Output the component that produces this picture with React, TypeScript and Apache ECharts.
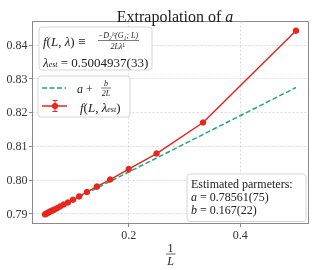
import React, { useEffect, useRef } from "react";
import * as echarts from "echarts";

const sizesL = [2, 3, 4, 5, 6, 7, 8, 9, 10, 11, 12, 13, 14, 15, 16, 17, 18, 19, 20];
const fValues = [0.8442, 0.817, 0.8078, 0.8032, 0.8001, 0.798, 0.7964, 0.7951, 0.7941, 0.7933, 0.7927, 0.7921, 0.7916, 0.7912, 0.7909, 0.7906, 0.7903, 0.79, 0.7898];
const fitA = 0.78561;
const fitB = 0.167;
const yTicks = [0.79, 0.8, 0.81, 0.82, 0.83, 0.84];
const xTicks = [0.2, 0.4];

const RED = "#e8261c";
const GREEN = "#1fa67e";
const SERIF = "'Liberation Serif', 'DejaVu Serif', serif";

export default function App() {
  const ref = useRef<HTMLDivElement>(null);
  useEffect(() => {
    if (!ref.current) return;
    const chart = echarts.init(ref.current, null, { renderer: "svg" });
    const pts = sizesL.map((L, i) => [1 / L, fValues[i]]);
    const xs = sizesL.map((L) => 1 / L);
    const xMinD = Math.min(...xs), xMaxD = Math.max(...xs);
    const yMinD = Math.min(...fValues), yMaxD = Math.max(...fValues);
    const fit = [xMinD, xMaxD].map((x) => [x, fitA + (fitB * x) / 2]);
    const xr = xMaxD - xMinD, yr = yMaxD - yMinD;

    const boxStyle = { fill: "rgba(255,255,255,0.85)", stroke: "#d6d6d6", lineWidth: 1 };
    const rich = (size: number, lh?: number) => ({
      i: { fontStyle: "italic", fontFamily: SERIF, fontSize: size, fill: "#222", lineHeight: lh },
      n: { fontFamily: SERIF, fontSize: size, fill: "#222", lineHeight: lh },
      s: { fontStyle: "italic", fontFamily: SERIF, fontSize: 8, fill: "#222", verticalAlign: "bottom", padding: [5, 0, 0, 0] },
    });
    const t = (x: number, y: number, text: string, size: number, extra: any = {}) => ({
      type: "text", x, y, silent: true,
      style: { text, font: `${extra.italic ? "italic " : ""}${size}px ${SERIF}`, fill: "#222", verticalAlign: "middle", align: extra.align || "left", rich: extra.rich },
    });

    chart.setOption({
      animation: false,
      title: {
        text: "Extrapolation of {i|a}",
        left: 170, top: 3, textAlign: "center",
        textStyle: { fontFamily: SERIF, fontSize: 16, fontWeight: "normal", color: "#222",
          rich: { i: { fontStyle: "italic", fontFamily: SERIF, fontSize: 16, color: "#222" } } },
      },
      grid: { left: 32.5, right: 6.5, top: 21.5, bottom: 46.5, show: true, borderColor: "#8a8a8a", borderWidth: 1, backgroundColor: "transparent" },
      xAxis: {
        type: "value",
        min: xMinD - 0.05 * xr, max: xMaxD + 0.05 * xr,
        axisLine: { show: true, lineStyle: { color: "#8a8a8a" } },
        axisTick: { show: true, length: 3.5, lineStyle: { color: "#8a8a8a" }, customValues: xTicks },
        axisLabel: { customValues: xTicks, formatter: (v: number) => v.toFixed(1), fontFamily: SERIF, fontSize: 12, color: "#333", margin: 5 },
        splitLine: { show: true, lineStyle: { color: "#d0d0d0", type: [2, 2], width: 0.8 } },
      },
      yAxis: {
        type: "value",
        min: yMinD - 0.05 * yr, max: yMaxD + 0.05 * yr,
        axisLine: { show: true, lineStyle: { color: "#8a8a8a" } },
        axisTick: { show: true, length: 3.5, lineStyle: { color: "#8a8a8a" }, customValues: yTicks },
        axisLabel: { customValues: yTicks, formatter: (v: number) => v.toFixed(2), fontFamily: SERIF, fontSize: 12, color: "#333", margin: 5 },
        splitLine: { show: true, lineStyle: { color: "#d0d0d0", type: [2, 2], width: 0.8 } },
      },
      series: [
        { type: "line", data: fit, showSymbol: false, lineStyle: { color: GREEN, width: 1.5, type: [5, 2.5] }, z: 2 },
        { type: "line", data: pts, symbol: "circle", symbolSize: 6.5, itemStyle: { color: RED }, lineStyle: { color: RED, width: 1.5 }, z: 3 },
      ],
      graphic: [
        // box 1
        { type: "rect", shape: { x: 39, y: 27, width: 113, height: 43, r: 3 }, style: boxStyle, z: 10 },
        t(43, 41, "{i|f}{n|(}{i|L}{n|, }{i|λ}{n|) ≡}", 13, { rich: rich(13) }),
        t(118, 35, "−D₂ˡᶜ(G₁; L)", 8, { italic: true, align: "center" }),
        { type: "line", shape: { x1: 98, y1: 40.5, x2: 139, y2: 40.5 }, style: { stroke: "#222", lineWidth: 0.6 } },
        t(118, 46, "2Lλᴸ", 8, { italic: true, align: "center" }),
        t(43, 62, "{i|λ}{s|est}{n| = 0.5004937(33)}", 13, { rich: rich(13) }),
        // box 2
        { type: "rect", shape: { x: 38, y: 76, width: 92, height: 41, r: 3 }, style: boxStyle, z: 10 },
        { type: "line", shape: { x1: 42, y1: 88, x2: 66, y2: 88 }, style: { stroke: GREEN, lineWidth: 1.5, lineDash: [5, 2.5] } },
        t(77, 89, "{i|a}{n| +}", 12, { rich: rich(12) }),
        t(106, 83.5, "b", 8, { italic: true, align: "center" }),
        { type: "line", shape: { x1: 101, y1: 88, x2: 111, y2: 88 }, style: { stroke: "#222", lineWidth: 0.6 } },
        t(106, 93, "2L", 8, { italic: true, align: "center" }),
        { type: "line", shape: { x1: 42, y1: 106, x2: 67, y2: 106 }, style: { stroke: RED, lineWidth: 1.5 } },
        { type: "line", shape: { x1: 55, y1: 100.5, x2: 55, y2: 111.5 }, style: { stroke: RED, lineWidth: 1 } },
        { type: "line", shape: { x1: 52.5, y1: 100.5, x2: 57.5, y2: 100.5 }, style: { stroke: RED, lineWidth: 1 } },
        { type: "line", shape: { x1: 52.5, y1: 111.5, x2: 57.5, y2: 111.5 }, style: { stroke: RED, lineWidth: 1 } },
        { type: "circle", shape: { cx: 55, cy: 106, r: 3.2 }, style: { fill: RED }, z: 12 },
        t(80, 107, "{i|f}{n|(}{i|L}{n|, }{i|λ}{s|est}{n|)}", 13, { rich: rich(13) }),
        // box 3
        { type: "rect", shape: { x: 187, y: 174, width: 119, height: 47.5, r: 3 }, style: boxStyle, z: 10 },
        {
          type: "text", x: 191, y: 177.5, silent: true,
          style: {
            text: "{n|Estimated parmeters:}\n{i|a}{n| = 0.78561(75)}\n{i|b}{n| = 0.167(22)}",
            font: `12px ${SERIF}`, fill: "#222", verticalAlign: "top", align: "left", lineHeight: 13,
            rich: rich(12, 13),
          },
        },
        // x axis label 1/L
        t(170.5, 247.5, "1", 12, { align: "center" }),
        { type: "line", shape: { x1: 166, y1: 254, x2: 175.5, y2: 254 }, style: { stroke: "#222", lineWidth: 0.7 } },
        t(170.5, 261, "L", 12, { italic: true, align: "center" }),
      ].map((g: any) => (g.z === undefined ? { ...g, z: 11 } : g)),
    });
    return () => chart.dispose();
  }, []);
  return <div ref={ref} style={{ position: "fixed", left: 0, top: 0, width: 315, height: 270 }} />;
}
